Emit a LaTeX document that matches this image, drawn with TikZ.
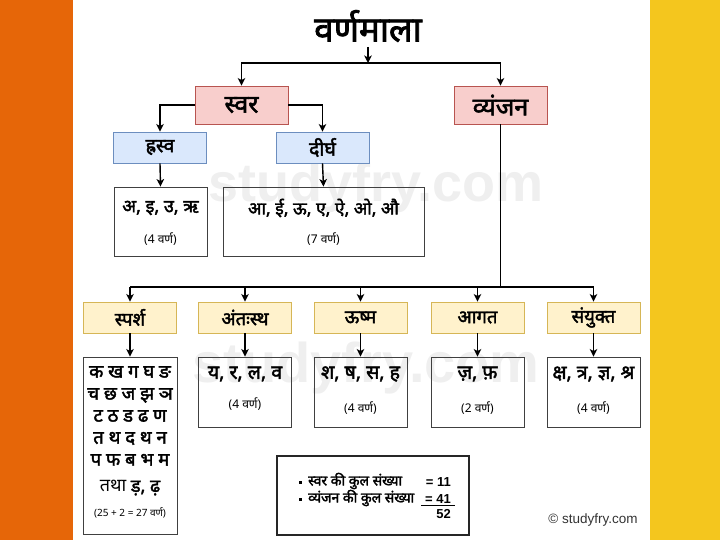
\documentclass[tikz,border=0pt]{standalone}
\usepackage{fontspec}
\setmainfont{Liberation Sans}
\newfontfamily\hin[Script=Devanagari]{Noto Sans}
\newfontfamily\hinb[Script=Devanagari,FakeBold=2.2]{Noto Sans}
\usetikzlibrary{arrows.meta}
\definecolor{bandor}{RGB}{230,102,8}
\definecolor{bandye}{RGB}{244,198,30}
\definecolor{pinkfill}{RGB}{248,206,204}
\definecolor{pinkline}{RGB}{184,84,80}
\definecolor{bluefill}{RGB}{218,232,252}
\definecolor{blueline}{RGB}{108,142,191}
\definecolor{yelfill}{RGB}{255,242,204}
\definecolor{yelline}{RGB}{214,182,86}
\definecolor{wmark}{RGB}{239,239,239}
\begin{document}
\begin{tikzpicture}[x=1pt,y=-1pt,
  conn/.style={line width=1.4pt, black},
  arr/.style={conn, -{Stealth[length=7.5pt,width=7.5pt,inset=2pt]}},
  basebox/.style={inner sep=0pt, line width=0.9pt, minimum width=93pt},
  pinkbox/.style={basebox, draw=pinkline, fill=pinkfill, minimum height=38pt, font=\hinb\fontsize{25}{28}\selectfont},
  bluebox/.style={basebox, draw=blueline, fill=bluefill, minimum height=31pt, font=\hinb\fontsize{19.5}{22}\selectfont},
  yelbox/.style={basebox, draw=yelline, fill=yelfill, minimum height=31pt, font=\hinb\fontsize{18.5}{22}\selectfont},
  whitebox/.style={basebox, draw={black!75}, minimum height=70pt},
  big/.style={font=\hinb\fontsize{19.5}{22}\selectfont, inner sep=0pt},
  small/.style={font=\hin\fontsize{12}{14}\selectfont, inner sep=0pt},
  sumtxt/.style={font=\hinb\fontsize{14}{16}\selectfont, inner sep=0pt},
  numtxt/.style={font=\bfseries\fontsize{13}{15}\selectfont, inner sep=0pt},
  wm/.style={text=wmark, inner sep=0pt}
]
\useasboundingbox (0,0) rectangle (720,540);
\fill[bandor] (0,0) rectangle (73,540);
\fill[bandye] (650,0) rectangle (720,540);
% watermarks
\node[wm, font=\bfseries\fontsize{54}{58}\selectfont] (wm1) at (376,188) {studyfry.com};
\node[wm, font=\bfseries\fontsize{56}{60}\selectfont] (wm2) at (366,368) {studyfry.com};
% title
\node[font=\hinb\fontsize{35}{38}\selectfont, inner sep=0pt] (title) at (368,26) {वर्णमाला};
\coordinate (tbot) at (368,47);
\coordinate (tj) at (368,63);
% level 1
\node[pinkbox] (svar) at (241.5,105) {स्वर};
\node[pinkbox] (vyan) at (500.5,105) {व्यंजन};
% level 2
\node[bluebox] (hras) at (160,147.5) {ह्रस्व};
\node[bluebox] (dirg) at (322.5,147.5) {दीर्घ};
% vowel boxes
\node[whitebox, minimum width=93pt, minimum height=69pt] (hbox) at (160.5,221.5) {};
\node[whitebox, minimum width=201pt, minimum height=69pt] (dbox) at (323.5,221.5) {};
\node[big, font=\hinb\fontsize{18}{22}\selectfont] (htxt) at (160.5,208) {अ, इ, उ, ऋ};
\node[small] (hcnt) at (160.5,239) {(4 वर्ण)};
\node[big, font=\hinb\fontsize{17.5}{22}\selectfont] (dtxt) at (323.5,208) {आ, ई, ऊ, ए, ऐ, ओ, औ};
\node[small] (dcnt) at (323.5,239) {(7 वर्ण)};
% consonant categories
\node[yelbox] (spar) at (130,317.5) {स्पर्श};
\node[yelbox] (anta) at (245,317.5) {अंतःस्थ};
\node[yelbox] (ushm) at (360.5,317.5) {ऊष्म};
\node[yelbox] (agat) at (477.5,317.5) {आगत};
\node[yelbox] (samy) at (593.5,317.5) {संयुक्त};
\coordinate (bus) at (0,287);
% consonant boxes
\node[whitebox, minimum width=94pt, minimum height=177pt] (sbox) at (130,445.5) {};
\node[whitebox] (abox) at (245,392) {};
\node[whitebox] (ubox) at (360.5,392) {};
\node[whitebox] (gbox) at (477.5,392) {};
\node[whitebox] (ybox) at (593.5,392) {};
\node[big, font=\hinb\fontsize{18.5}{22}\selectfont, align=center, anchor=north] (stxt) at (130,366) {क ख ग घ ङ\\च छ ज झ ञ\\ट ठ ड ढ ण\\त थ द थ न\\प फ ब भ म};
\node[inner sep=0pt, font=\hin\fontsize{18}{20}\selectfont] (stxt2) at (130,488) {तथा {\hinb ड़, ढ़}};
\node[small, font=\hin\fontsize{10}{12}\selectfont] (scnt) at (130,513) {(25 + 2 = 27 वर्ण)};
\node[big] (atxt) at (245,374) {य, र, ल, व};
\node[small] (acnt) at (245,404) {(4 वर्ण)};
\node[big] (utxt) at (360.5,374) {श, ष, स, ह};
\node[small] (ucnt) at (360.5,408) {(4 वर्ण)};
\node[big] (gtxt) at (477.5,374) {ज़, फ़};
\node[small] (gcnt) at (477.5,408) {(2 वर्ण)};
\node[big] (ytxt) at (593.5,374) {क्ष, त्र, ज्ञ, श्र};
\node[small] (ycnt) at (593.5,408) {(4 वर्ण)};
% summary
\node[basebox, draw=black!85, line width=1.1pt, minimum width=192pt, minimum height=79pt] (sumb) at (373,495.5) {};
\fill (299,480.5) rectangle (302,483.5);
\fill (299,497.5) rectangle (302,500.5);
\node[sumtxt, anchor=west] (s1) at (308,481) {स्वर की कुल संख्या};
\node[sumtxt, anchor=west] (s2) at (308,498) {व्यंजन की कुल संख्या};
\node[numtxt, anchor=east] (n1) at (451,482) {= 11};
\node[numtxt, anchor=east] (n2) at (451,499) {= 41};
\node[numtxt, anchor=east] (n3) at (451,514) {52};
\draw[line width=1pt] (421,505.5) -- (455,505.5);
\node[font=\fontsize{13.5}{15}\selectfont, inner sep=0pt, text=black!80] (copy) at (593,520) {© studyfry.com};
% connectors
\draw[arr] (tbot) -- (tj);
\draw[arr] (tj) -| (svar.north);
\draw[arr] (tj) -| (vyan.north);
\draw[arr] (svar.west) -| (hras.north);
\draw[arr] (svar.east) -| (dirg.north);
\draw[arr] (hras.south) -- (hbox.north);
\draw[arr] (dirg.south) -- (dbox.north);
\draw[conn] (vyan.south) -- (vyan.south |- bus);
\draw[conn] (spar.north |- bus) -- (samy.north |- bus);
\foreach \n in {spar,anta,ushm,agat,samy}{\draw[arr] (\n.north |- bus) -- (\n.north);}
\draw[arr] (spar.south) -- (sbox.north);
\draw[arr] (anta.south) -- (abox.north);
\draw[arr] (ushm.south) -- (ubox.north);
\draw[arr] (agat.south) -- (gbox.north);
\draw[arr] (samy.south) -- (ybox.north);
\end{tikzpicture}
\end{document}
